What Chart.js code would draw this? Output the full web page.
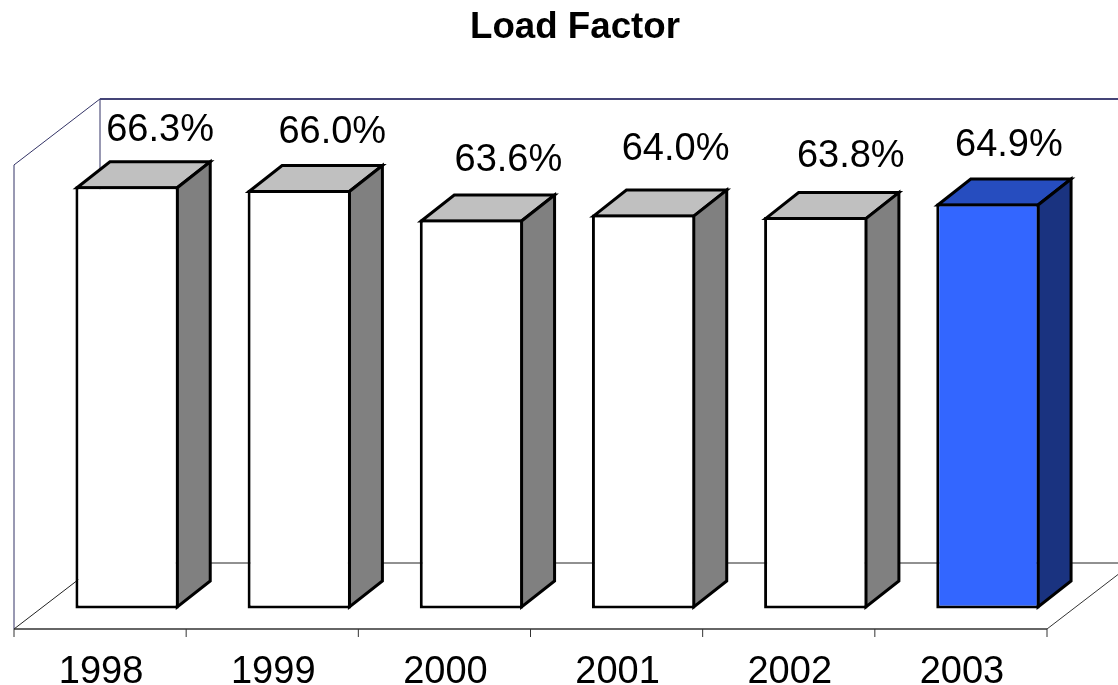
<!DOCTYPE html>
<html>
<head>
<meta charset="utf-8">
<title>Load Factor</title>
<script src="https://cdn.jsdelivr.net/npm/chart.js@4"></script>
<style>
    html, body { margin: 0; padding: 0; background: #fff; }
    #wrap { width: 1118px; height: 685px; }
</style>
</head>
<body>
<div id="wrap"><canvas id="loadFactorChart"></canvas></div>
<script>
// data
const years = ['1998', '1999', '2000', '2001', '2002', '2003'];
const loadFactor = [66.3, 66.0, 63.6, 64.0, 63.8, 64.9];
const valueLabels = ['66.3%', '66.0%', '63.6%', '64.0%', '63.8%', '64.9%'];
const axisMin = 32;
const axisMax = 69.7;

// colours per bar: front, top, side
const frontColors = ['#ffffff', '#ffffff', '#ffffff', '#ffffff', '#ffffff', '#3366ff'];
const topColors = ['#c0c0c0', '#c0c0c0', '#c0c0c0', '#c0c0c0', '#c0c0c0', '#264dbf'];
const sideColors = ['#808080', '#808080', '#808080', '#808080', '#808080', '#1a3380'];

// the value labels sit loosely above the bars in the original
const labelShiftX = [33, 33, 37, 32, 35, 21];
const labelShiftY = [-56, -57, -59, -65, -61, -58];

const FONT = '"Liberation Sans", Arial, sans-serif';
const BAR_DX = 33, BAR_DY = -26;   // depth of a bar
const WALL_DX = 86, WALL_DY = -66; // depth of the floor
const FRONT_DX = -27, FRONT_DY = 20.5; // front edge of floor, seen from the bar base
const BAR_STROKE = 3;

function line(ctx, x1, y1, x2, y2, color, width) {
    ctx.strokeStyle = color;
    ctx.lineWidth = width;
    ctx.beginPath();
    ctx.moveTo(x1, y1);
    ctx.lineTo(x2, y2);
    ctx.stroke();
}

function face(ctx, pts, fill) {
    ctx.fillStyle = fill;
    ctx.strokeStyle = '#000';
    ctx.lineWidth = BAR_STROKE;
    ctx.lineJoin = 'miter';
    ctx.beginPath();
    pts.forEach((p, i) => i ? ctx.lineTo(p[0], p[1]) : ctx.moveTo(p[0], p[1]));
    ctx.closePath();
    ctx.fill();
    ctx.stroke();
}

const box3d = {
    id: 'box3d',
    beforeDatasetsDraw(chart) {
        const ctx = chart.ctx, a = chart.chartArea;
        const fl = a.left + FRONT_DX, fr = a.right + FRONT_DX;
        const fb = a.bottom + FRONT_DY, ft = a.top + FRONT_DY;
        const wall = '#333366';
        ctx.save();
        // walls
        line(ctx, fl, ft, fl, fb, wall, 1);
        line(ctx, fl, ft, fl + WALL_DX, ft + WALL_DY, wall, 1);
        line(ctx, fl + WALL_DX, ft + WALL_DY, fl + WALL_DX, fb + WALL_DY, wall, 1);
        line(ctx, fl + WALL_DX, ft + WALL_DY, fr + WALL_DX, ft + WALL_DY, '#444477', 2);
        // floor
        line(ctx, fl, fb, fl + WALL_DX, fb + WALL_DY, '#222', 1);
        line(ctx, fl + WALL_DX, fb + WALL_DY, fr + WALL_DX, fb + WALL_DY, '#222', 1);
        line(ctx, fr, fb, fr + WALL_DX, fb + WALL_DY, '#333', 1);
        line(ctx, fl, fb, fr, fb, '#333', 1.5);
        // tick marks between the categories
        const step = (fr - fl) / years.length;
        for (let i = 0; i <= years.length; i++) {
            line(ctx, fl + step * i, fb, fl + step * i, fb + 8, '#333', 1);
        }
        // top and side of each bar, on the centre of the library's border
        const inset = BAR_STROKE / 2;
        chart.getDatasetMeta(0).data.forEach((bar, i) => {
            const l = bar.x - bar.width / 2 + inset, r = bar.x + bar.width / 2 - inset;
            const y = bar.y + inset, base = bar.base - inset;
            face(ctx, [[l, y], [l + BAR_DX, y + BAR_DY], [r + BAR_DX, y + BAR_DY], [r, y]], topColors[i]);
            face(ctx, [[r, y], [r + BAR_DX, y + BAR_DY], [r + BAR_DX, base + BAR_DY], [r, base]], sideColors[i]);
        });
        ctx.restore();
    },
    afterDatasetsDraw(chart) {
        const ctx = chart.ctx;
        ctx.save();
        ctx.fillStyle = '#000';
        ctx.font = '38px ' + FONT;
        ctx.textAlign = 'center';
        ctx.textBaseline = 'middle';
        chart.getDatasetMeta(0).data.forEach((bar, i) => {
            ctx.fillText(valueLabels[i], bar.x + labelShiftX[i], bar.y + labelShiftY[i]);
        });
        ctx.restore();
    }
};

document.addEventListener('DOMContentLoaded', function() {
    new Chart(document.getElementById('loadFactorChart'), {
        type: 'bar',
        data: {
            labels: years,
            datasets: [{
                label: 'Load Factor',
                data: loadFactor,
                base: axisMin,
                clip: 4,
                backgroundColor: frontColors,
                borderColor: '#000',
                borderWidth: BAR_STROKE,
                borderSkipped: false,
                barPercentage: 0.6,
                categoryPercentage: 1
            }]
        },
        options: {
            responsive: true,
            maintainAspectRatio: false,
            animation: false,
            layout: { padding: { left: 41, right: 9, top: 0, bottom: 0 } },
            scales: {
                x: {
                    grid: { display: false },
                    border: { display: false },
                    afterFit: s => { s.height = 76.5; },
                    ticks: {
                        color: '#000',
                        font: { family: FONT, size: 38 },
                        padding: 33,
                        labelOffset: FRONT_DX + 1,
                        autoSkip: false,
                        maxRotation: 0
                    }
                },
                y: {
                    position: 'right',
                    min: axisMin,
                    max: axisMax,
                    grid: { display: false },
                    border: { display: false },
                    ticks: { display: false },
                    afterFit: s => { s.width = 35; }
                }
            },
            plugins: {
                legend: { display: false },
                tooltip: { enabled: false },
                title: {
                    display: true,
                    text: 'Load Factor',
                    color: '#000',
                    font: { family: FONT, size: 36.7, weight: 'bold' },
                    padding: { top: 6, bottom: 94.4 }
                }
            }
        },
        plugins: [box3d]
    });
});
</script>
</body>
</html>
